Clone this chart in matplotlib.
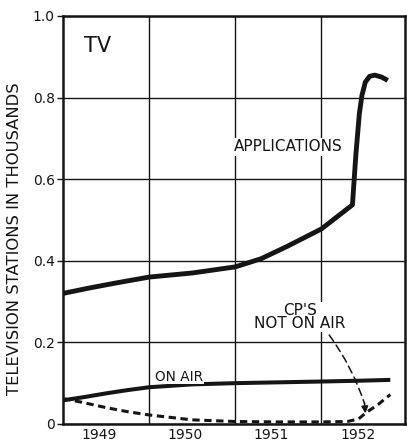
import numpy as np
import matplotlib.pyplot as plt
from matplotlib.ticker import FixedLocator, NullFormatter

# values in thousands, x in fractional years
app_x = [1949.0, 1949.3, 1949.6, 1950.0, 1950.5, 1951.0, 1951.3, 1951.6, 1952.0, 1952.36,
         1952.40, 1952.44, 1952.47, 1952.51, 1952.56, 1952.62, 1952.70, 1952.77]
app_y = [0.320, 0.333, 0.345, 0.360, 0.370, 0.385, 0.405, 0.435, 0.478, 0.537,
         0.660, 0.760, 0.805, 0.838, 0.852, 0.855, 0.850, 0.842]

air_x = [1949.0, 1949.25, 1949.5, 1949.75, 1950.0, 1950.5, 1951.0, 1951.5, 1952.0, 1952.45, 1952.8]
air_y = [0.058, 0.066, 0.075, 0.083, 0.090, 0.097, 0.100, 0.102, 0.104, 0.106, 0.108]

cp_x = [1949.0, 1949.2, 1949.5, 1949.75, 1950.0, 1950.5, 1951.0, 1951.5, 1952.0, 1952.3,
        1952.43, 1952.52, 1952.66, 1952.80]
cp_y = [0.062, 0.054, 0.040, 0.030, 0.022, 0.010, 0.006, 0.005, 0.005, 0.006,
        0.012, 0.028, 0.048, 0.072]

years = [1949, 1950, 1951, 1952]
yticks = [0, 0.2, 0.4, 0.6, 0.8, 1.0]
ylabels = ['0', '0.2', '0.4', '0.6', '0.8', '1.0']

ink = '#151515'
plt.rcParams['font.family'] = 'DejaVu Sans'

fig = plt.figure(figsize=(4.07, 4.43), dpi=100, facecolor='white')
ax = fig.add_axes([0.155, 0.043, 0.840, 0.921])

ax.plot(app_x, app_y, color=ink, lw=3.5, solid_capstyle='butt', zorder=3)
ax.plot(air_x, air_y, color=ink, lw=2.9, solid_capstyle='butt', zorder=3)
ax.plot(cp_x, cp_y, color=ink, lw=2.2, dashes=(2.4, 1.5), zorder=3)

ax.set_xlim(1949.0, 1952.97)
ax.set_ylim(0, 1.0)

ax.set_yticks(yticks)
ax.set_yticklabels(ylabels)
ax.xaxis.set_major_locator(FixedLocator([y + 0.42 for y in years]))
ax.set_xticklabels([str(y) for y in years])
ax.xaxis.set_minor_locator(FixedLocator([1950, 1951, 1952]))
ax.xaxis.set_minor_formatter(NullFormatter())
ax.tick_params(axis='x', which='major', length=0, pad=3, labelsize=10, colors=ink)
ax.tick_params(axis='x', which='minor', length=0)
ax.tick_params(axis='y', length=4, width=1, pad=2, labelsize=10, colors=ink)

ax.grid(True, axis='y', which='major', color=ink, lw=1.0, zorder=1)
ax.grid(True, axis='x', which='minor', color=ink, lw=1.0, zorder=1)
ax.grid(False, axis='x', which='major')
for s in ax.spines.values():
    s.set_linewidth(1.8)
    s.set_color(ink)

ax.set_ylabel('TELEVISION STATIONS IN THOUSANDS', fontsize=11.8, color=ink)
ax.yaxis.set_label_coords(-0.12, 0.453)

ax.text(1949.4, 0.927, 'TV', fontsize=15, color=ink, ha='center', va='center')
ax.text(1951.62, 0.679, 'APPLICATIONS', fontsize=11, color=ink, ha='center', va='center',
        bbox=dict(facecolor='white', edgecolor='none', pad=1), zorder=4)
ax.text(1950.35, 0.116, 'ON AIR', fontsize=9.8, color=ink, ha='center', va='center',
        bbox=dict(facecolor='white', edgecolor='none', pad=0.5), zorder=4)
ax.text(1951.75, 0.262, "CP'S\nNOT ON AIR", fontsize=11, color=ink, ha='center', va='center',
        linespacing=0.9, bbox=dict(facecolor='white', edgecolor='none', pad=0.5), zorder=4)
# dashed leader with a solid head
ax.annotate('', xy=(1952.5, 0.05), xytext=(1952.09, 0.218),
            arrowprops=dict(arrowstyle='-', color=ink, lw=1.1, ls=(0, (5, 3)),
                            connectionstyle='arc3,rad=-0.08', shrinkA=0, shrinkB=0), zorder=4)
ax.annotate('', xy=(1952.51, 0.026), xytext=(1952.5, 0.052),
            arrowprops=dict(arrowstyle='-|>', color=ink, lw=1.1, mutation_scale=10,
                            shrinkA=0, shrinkB=0), zorder=4)

fig.savefig('out.png', dpi=100, facecolor='white')
